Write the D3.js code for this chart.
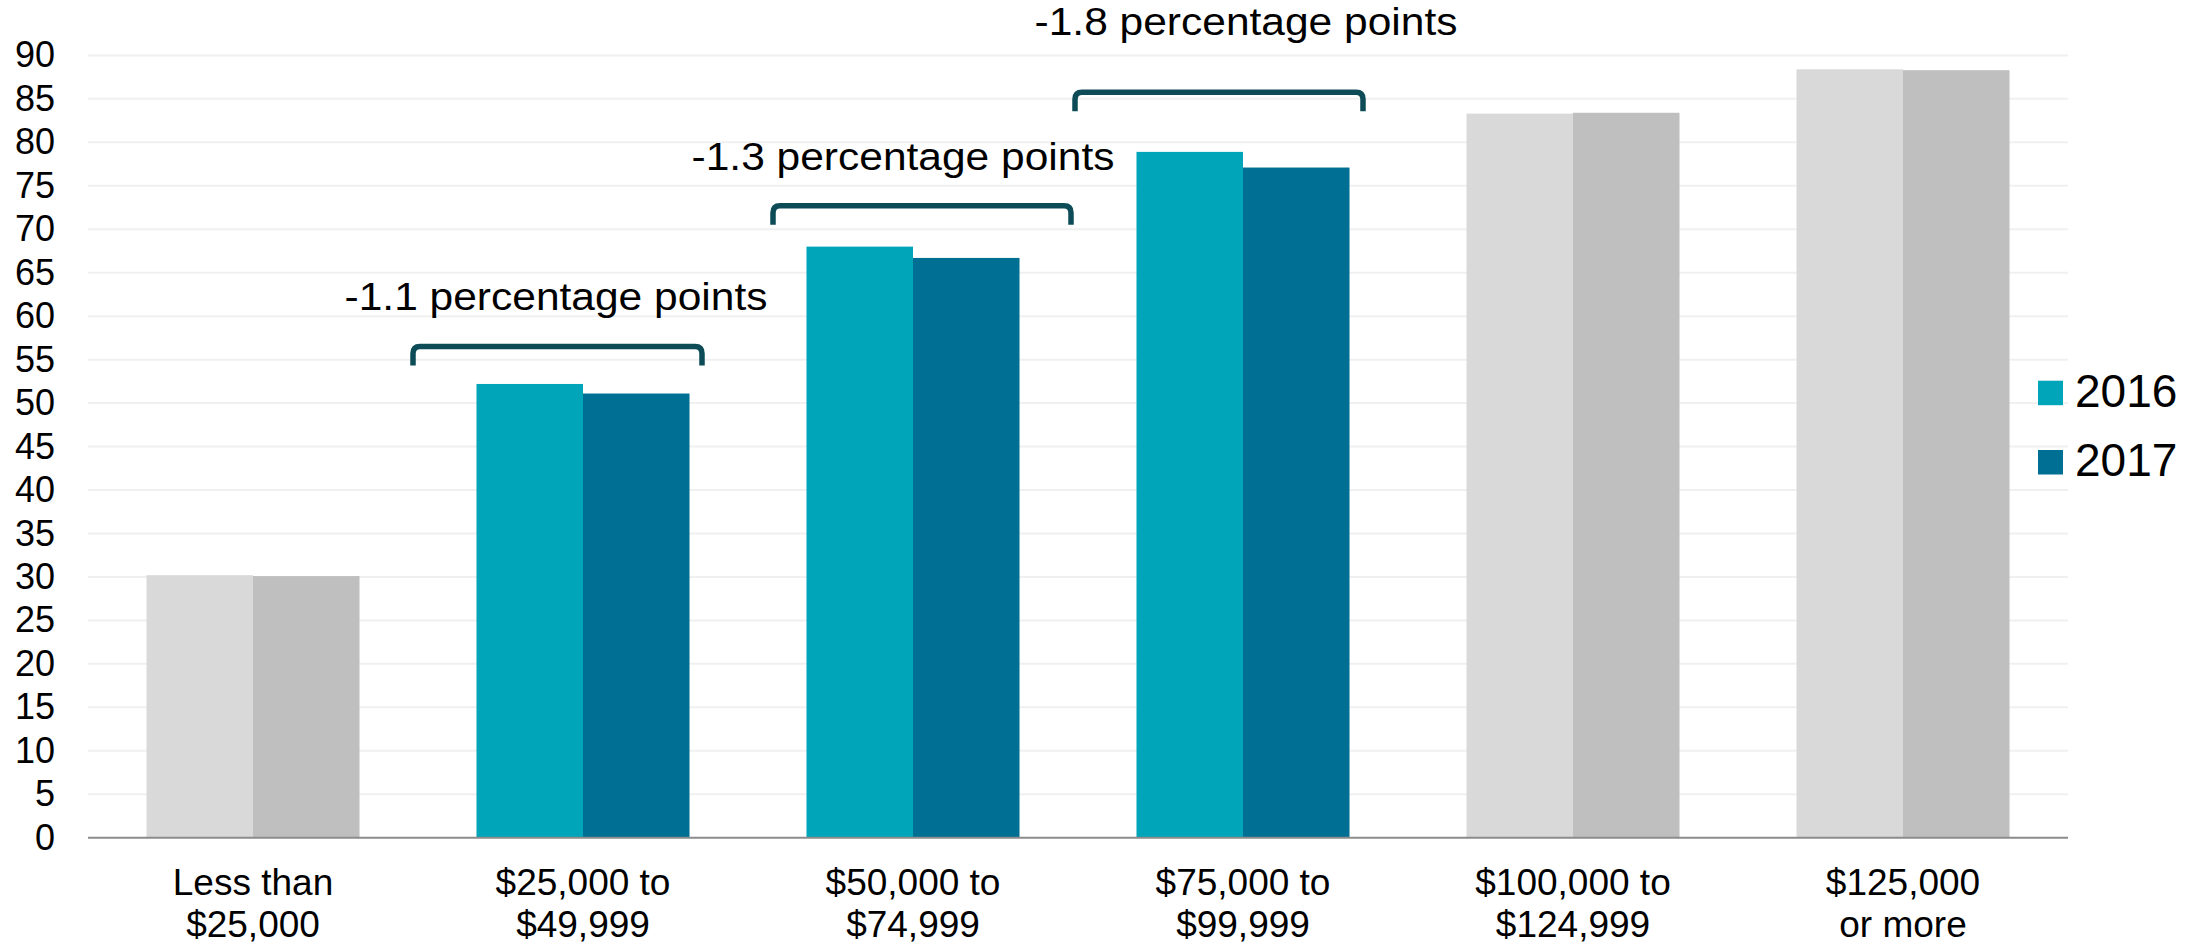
<!DOCTYPE html>
<html>
<head>
<meta charset="utf-8">
<script src="https://cdn.jsdelivr.net/npm/d3@7"></script>
<style>
  html, body { margin: 0; padding: 0; background: #fff; }
  svg { display: block; font-family: "Liberation Sans", Arial, sans-serif; }
</style>
</head>
<body>
<svg id="chart" width="2205" height="947"></svg>
<script>
// ---- data ----
const categories = ["Less than\n$25,000", "$25,000 to\n$49,999", "$50,000 to\n$74,999", "$75,000 to\n$99,999", "$100,000 to\n$124,999", "$125,000\nor more"];
const seriesNames = ["2016", "2017"];
const values2016 = [30.2, 52.2, 68.0, 78.9, 83.3, 88.4];
const values2017 = [30.1, 51.1, 66.7, 77.1, 83.4, 88.3];
const highlighted = [false, true, true, true, false, false];
const yTicks = [0, 5, 10, 15, 20, 25, 30, 35, 40, 45, 50, 55, 60, 65, 70, 75, 80, 85, 90];
const annotationCats = [1, 2, 3];
const annotationLabels = ["-1.1 percentage points", "-1.3 percentage points", "-1.8 percentage points"];

// ---- layout (not data) ----
const colorsHi = ["#00A5B9", "#006F94"];
const colorsLo = ["#D9D9D9", "#BFBFBF"];
const plotLeft = 88, plotRight = 2068, plotTop = 55.4, plotBottom = 837.7;
// bracket placement relative to category centre: [left offset, right offset, bracket top value, text x offset, text baseline y]
const bracketLayout = [
  [-170, 119, 56.5, -27, 310],
  [-140, 158, 72.7, -10, 170],
  [-168, 120, 85.75, 3, 35]
];

const svg = d3.select("#chart");

const y = d3.scaleLinear().domain([0, 90]).range([plotBottom, plotTop]);
const x = d3.scaleBand().domain(d3.range(categories.length)).range([plotLeft, plotRight])
  .paddingInner(0.3545).paddingOuter(0.17725);
const xs = d3.scaleBand().domain([0, 1]).range([0, x.bandwidth()]).padding(0);

// gridlines
svg.append("g").selectAll("line").data(yTicks.filter(d => d > 0)).join("line")
  .attr("x1", plotLeft).attr("x2", plotRight)
  .attr("y1", d => y(d)).attr("y2", d => y(d))
  .attr("stroke", "#F0F0F0").attr("stroke-width", 2);

// y axis labels
const yAxis = d3.axisLeft(y).tickValues(yTicks).tickSize(0).tickPadding(33);
const gy = svg.append("g").attr("transform", `translate(${plotLeft},0)`).call(yAxis);
gy.select(".domain").remove();
gy.selectAll("text").attr("font-size", 36).attr("fill", "#000")
  .attr("font-family", "'Liberation Sans', Arial, sans-serif");

// bars
const rows = categories.map((c, i) => ({ i, vals: [values2016[i], values2017[i]] }));
const groups = svg.append("g").selectAll("g").data(rows).join("g")
  .attr("transform", d => `translate(${x(d.i)},0)`);
groups.selectAll("rect").data(d => d.vals.map((v, s) => ({ v, s, hi: highlighted[d.i] }))).join("rect")
  .attr("x", d => xs(d.s))
  .attr("width", xs.bandwidth())
  .attr("y", d => y(d.v))
  .attr("height", d => y(0) - y(d.v))
  .attr("fill", d => d.hi ? colorsHi[d.s] : colorsLo[d.s]);

// x axis line
svg.append("line").attr("x1", plotLeft).attr("x2", plotRight)
  .attr("y1", y(0)).attr("y2", y(0)).attr("stroke", "#8C8C8C").attr("stroke-width", 2);

// x labels
const xl = svg.append("g").selectAll("text").data(categories).join("text")
  .attr("text-anchor", "middle").attr("font-size", 37).attr("fill", "#000")
  .attr("transform", (d, i) => `translate(${x(i) + x.bandwidth() / 2},895)`);
xl.selectAll("tspan").data(d => d.split("\n")).join("tspan")
  .attr("x", 0).attr("dy", (d, j) => j === 0 ? 0 : 42).text(d => d);

// brackets + annotation labels
annotationCats.forEach((ci, k) => {
  const [lo, ro, topV, tx, ty] = bracketLayout[k];
  const cx = x(ci) + x.bandwidth() / 2;
  const L = cx + lo, R = cx + ro, T = y(topV), B = T + 19, r = 7;
  svg.append("path")
    .attr("d", `M${L},${B} V${T + r} Q${L},${T} ${L + r},${T} H${R - r} Q${R},${T} ${R},${T + r} V${B}`)
    .attr("fill", "none").attr("stroke", "#0D4C57").attr("stroke-width", 5.5);
  svg.append("text")
    .attr("transform", `translate(${cx + tx},${ty}) scale(1.09,1)`)
    .attr("text-anchor", "middle").attr("font-size", 39).attr("fill", "#000")
    .text(annotationLabels[k]);
});

// legend
const leg = svg.append("g").selectAll("g").data(seriesNames).join("g")
  .attr("transform", (d, i) => `translate(2038,${380.7 + i * 69.3})`);
leg.append("rect").attr("width", 25).attr("height", 24.5).attr("fill", (d, i) => colorsHi[i]);
leg.append("text").attr("x", 37).attr("y", 26).attr("font-size", 46).attr("fill", "#000").text(d => d);
</script>
</body>
</html>
